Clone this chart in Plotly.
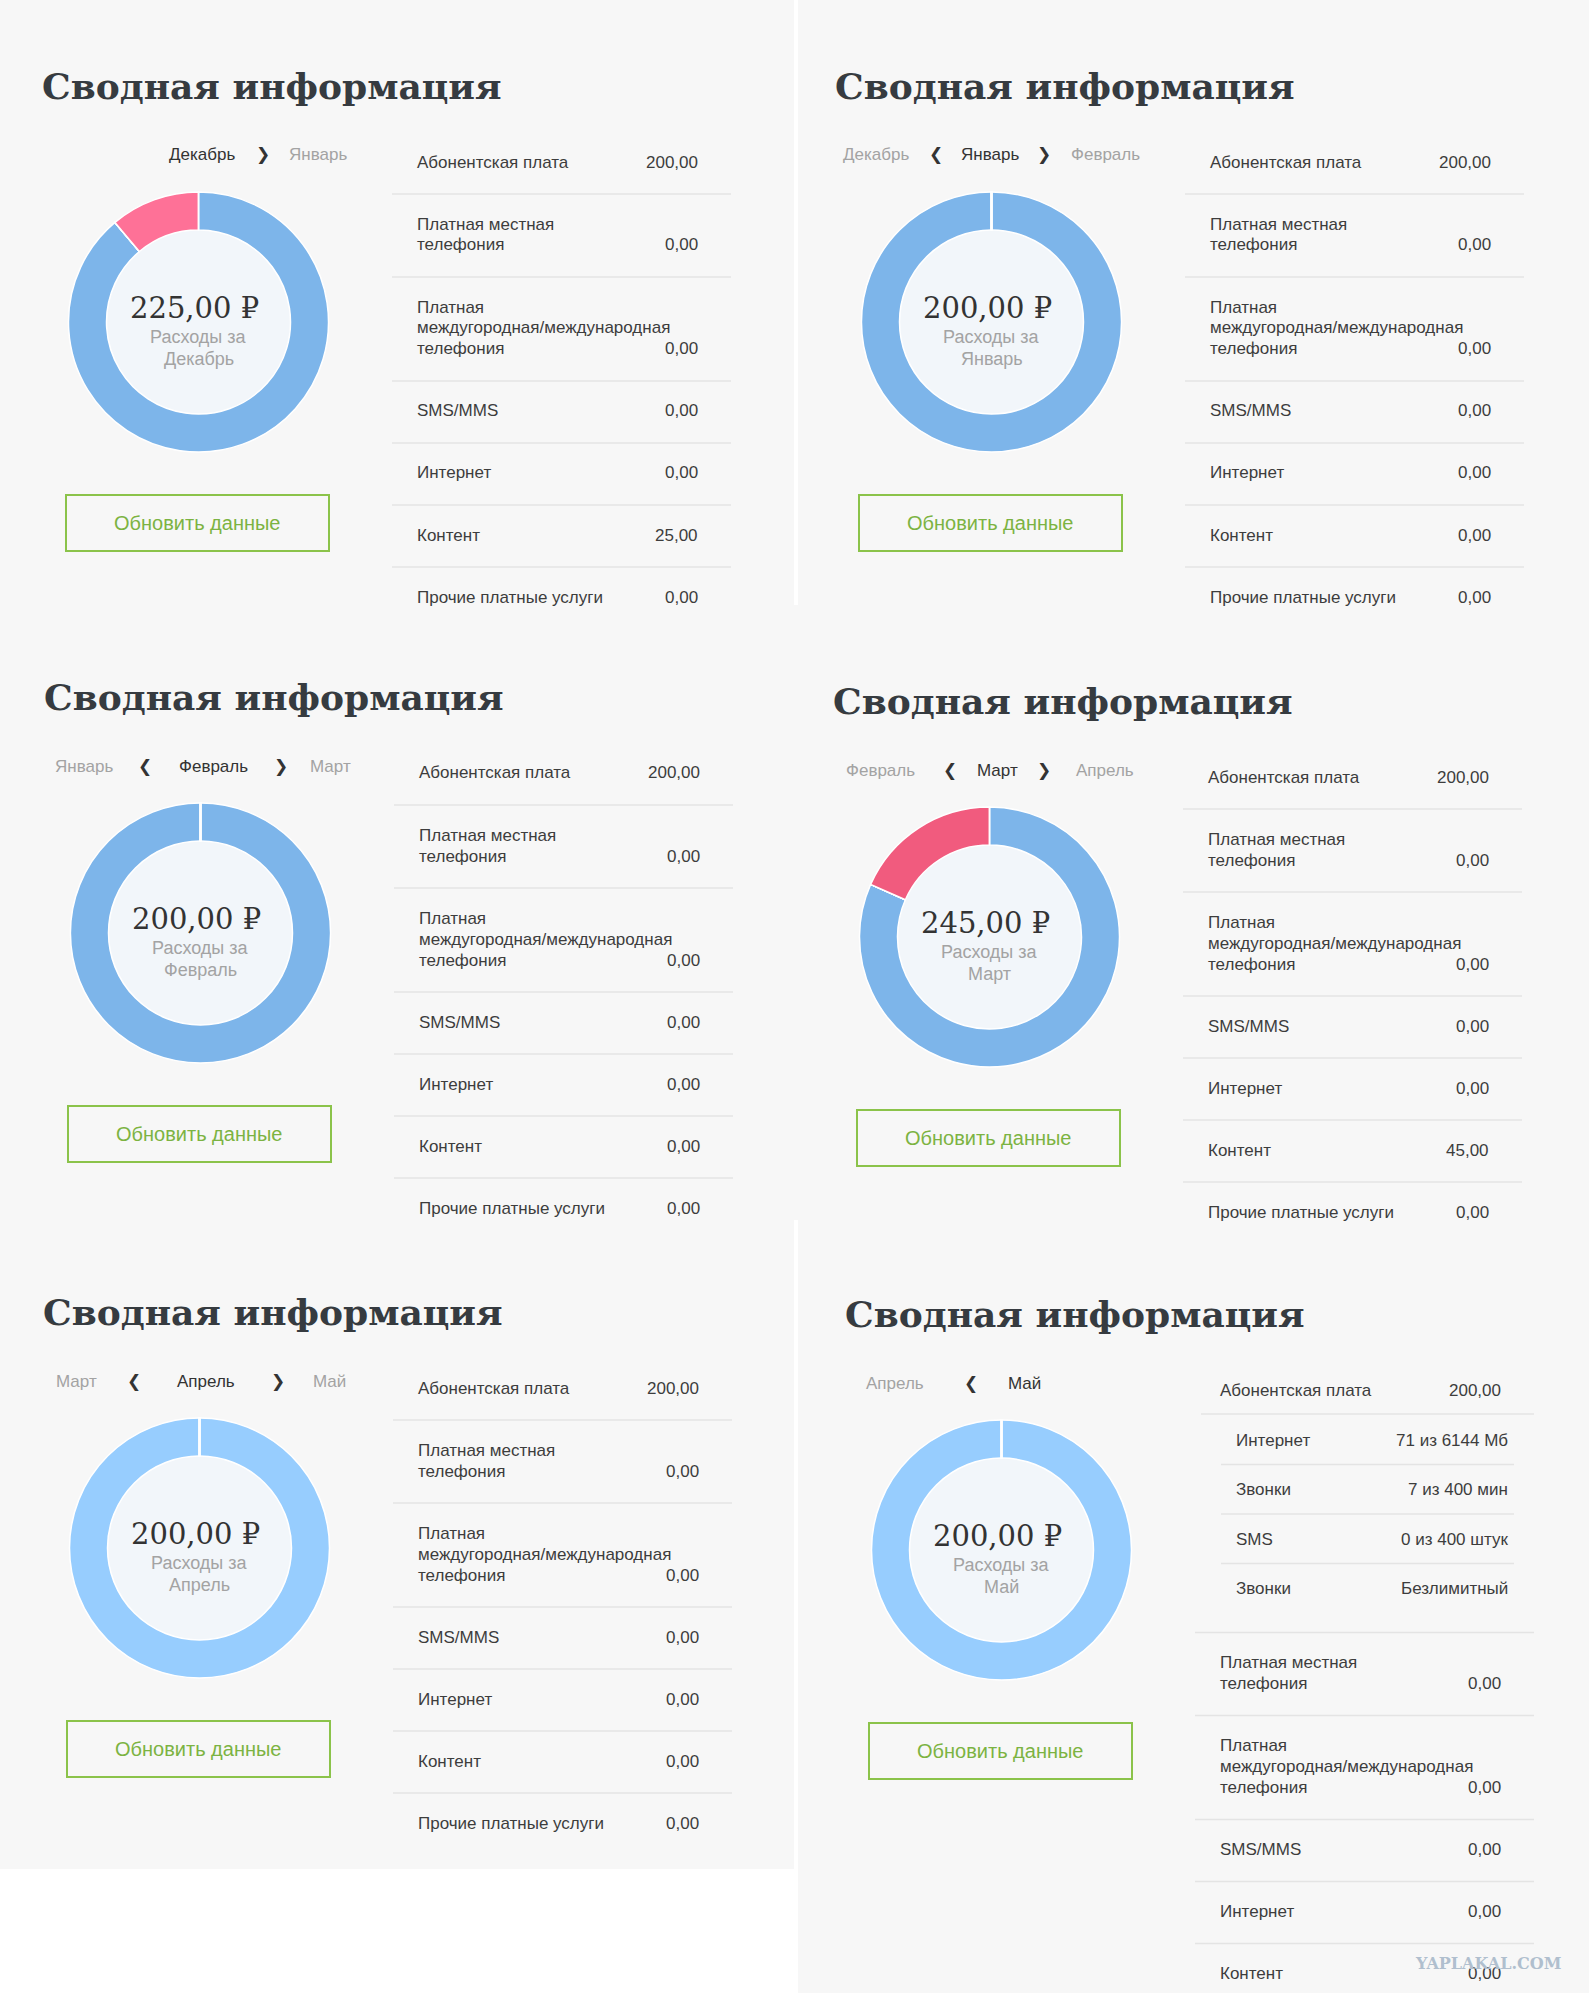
import plotly.graph_objects as go

W, H = 1589, 1993

title_text = "Сводная информация"
button_text = "Обновить данные"
spend_text = "Расходы за"
watermark = "YAPLAKAL.COM"

months = ["Декабрь", "Январь", "Февраль", "Март", "Апрель", "Май"]
prev_months = [None, "Декабрь", "Январь", "Февраль", "Март", "Апрель"]
next_months = ["Январь", "Февраль", "Март", "Апрель", "Май", None]

charge_labels = [
    ["Абонентская плата"],
    ["Платная местная", "телефония"],
    ["Платная", "междугородная/международная", "телефония"],
    ["SMS/MMS"],
    ["Интернет"],
    ["Контент"],
    ["Прочие платные услуги"],
]
charges_dec = [200, 0, 0, 0, 0, 25, 0]
charges_jan = [200, 0, 0, 0, 0, 0, 0]
charges_feb = [200, 0, 0, 0, 0, 0, 0]
charges_mar = [200, 0, 0, 0, 0, 45, 0]
charges_apr = [200, 0, 0, 0, 0, 0, 0]
charges_may = [200, 0, 0, 0, 0, 0]  # last row is below the picture

package_labels = ["Интернет", "Звонки", "SMS", "Звонки"]
package_values = ["71 из 6144 Мб", "7 из 400 мин", "0 из 400 штук", "Безлимитный"]

# look
BG = "#f7f7f7"
HOLE = "#f2f6fa"
SEP = "#e4e4e4"
DARK = "#3d3d3d"
GREY = "#a3a3a3"
GREEN = "#7cb342"
BODY = "Liberation Sans, Arial, sans-serif"
SLAB = "DejaVu Serif, serif"

# panel layout: origin in px, colours, nav x positions (prev, <, cur, >, next)
panels = [
    dict(o=(0, 0), vals=charges_dec, blue="#7db5ea", pink="#fe7197",
         nav=(None, None, 202, 263, 318)),
    dict(o=(793, 0), vals=charges_jan, blue="#7db5ea", pink="#fe7197",
         nav=(83, 143, 197, 251, 312)),
    dict(o=(2, 611), vals=charges_feb, blue="#7db5ea", pink="#fe7197",
         nav=(82, 143, 211, 279, 328)),
    dict(o=(791, 615), vals=charges_mar, blue="#7db5ea", pink="#f15b7e",
         nav=(89, 159, 206, 253, 314)),
    dict(o=(1, 1226), vals=charges_apr, blue="#97cdfe", pink="#fe7197",
         nav=(75, 133, 205, 277, 328)),
    dict(o=(803, 1228), vals=charges_may, blue="#97cdfe", pink="#fe7197",
         nav=(92, 168, 221, None, None), package=True),
]

R_OUT, R_IN = 130, 92
CX, CY = 198.5, 322


def X(x):
    return x / W


def Y(y):
    return 1 - y / H


def money(v):
    return f"{v:.2f}".replace(".", ",")


fig = go.Figure()
shapes = []
notes = []


def text(x, y, s, size=17, color=DARK, anchor="left", family=BODY):
    notes.append(dict(x=X(x), y=Y(y), xref="paper", yref="paper", text=s,
                      showarrow=False, xanchor=anchor, yanchor="middle",
                      font=dict(size=size, color=color, family=family)))


def hline(x0, x1, y, color=SEP, width=1.3):
    shapes.append(dict(type="line", xref="paper", yref="paper",
                       x0=X(x0), x1=X(x1), y0=Y(y), y1=Y(y),
                       line=dict(color=color, width=width), layer="below"))


def rect(x0, y0, x1, y1, fill, line=None):
    shapes.append(dict(type="rect", xref="paper", yref="paper",
                       x0=X(x0), x1=X(x1), y0=Y(y1), y1=Y(y0),
                       fillcolor=fill, line=line or dict(width=0), layer="below"))


# page background
rect(0, 0, W, H, BG)
rect(794, 0, 798, 605, "white")
rect(794, 1220, 798, H, "white")
rect(0, 1869, 797, H, "white")

for i, p in enumerate(panels):
    ox, oy = p["o"]
    vals = p["vals"]
    cx, cy = ox + CX, oy + CY

    text(ox + 40, oy + 86, "<b>" + title_text + "</b>", size=36,
         color="#363b40", family=SLAB)

    # month switcher
    nav = p["nav"]
    if prev_months[i]:
        text(ox + nav[0], oy + 155, prev_months[i], 17, GREY, "center")
        text(ox + nav[1], oy + 155, "<b>❮</b>", 17, "#333", "center", "DejaVu Sans")
    text(ox + nav[2], oy + 155, months[i], 17, "#333", "center")
    if next_months[i]:
        text(ox + nav[3], oy + 155, "<b>❯</b>", 17, "#333", "center", "DejaVu Sans")
        text(ox + nav[4], oy + 155, next_months[i], 17, GREY, "center")

    # donut
    colors = [p["blue"], "#cccccc", "#cccccc", "#cccccc", "#cccccc", p["pink"], "#cccccc"]
    shapes.append(dict(type="circle", xref="paper", yref="paper",
                       x0=X(cx - R_IN), x1=X(cx + R_IN), y0=Y(cy + R_IN), y1=Y(cy - R_IN),
                       fillcolor=HOLE, line=dict(width=0), layer="below"))
    fig.add_trace(go.Pie(
        values=vals, labels=[" ".join(l) for l in charge_labels[:len(vals)]],
        hole=R_IN / R_OUT, sort=False, direction="clockwise",
        marker=dict(colors=colors[:len(vals)], line=dict(color="white", width=1.5)),
        textinfo="none", hoverinfo="label+value",
        domain=dict(x=[X(cx - R_OUT), X(cx + R_OUT)], y=[Y(cy + R_OUT), Y(cy - R_OUT)]),
    ))
    if sum(1 for v in vals if v > 0) == 1:
        shapes.append(dict(type="line", xref="paper", yref="paper",
                           x0=X(cx), x1=X(cx), y0=Y(cy - R_OUT - 1), y1=Y(cy - R_IN + 1),
                           line=dict(color="white", width=2.5)))

    text(cx - 4, oy + 308, money(sum(vals)) + " ₽", 29, "#333", "center", SLAB)
    text(cx, oy + 337, spend_text, 18, GREY, "center")
    text(cx, oy + 359, months[i], 18, GREY, "center")

    # refresh button
    rect(ox + 66, oy + 495, ox + 329, oy + 551, "rgba(0,0,0,0)",
         dict(color="#8bc34a", width=2))
    text(ox + 197.5, oy + 523, button_text, 20, GREEN, "center")

    # charges table
    lx, vx = ox + 415, ox + 700
    text(lx, oy + 162, charge_labels[0][0], 17)
    text(vx, oy + 162, money(vals[0]), 17, anchor="right")
    if p.get("package"):
        hline(ox + 398, ox + 731, oy + 186)
        yy = oy + 212
        for k, (lab, val) in enumerate(zip(package_labels, package_values)):
            text(ox + 431, yy, lab, 17)
            text(ox + 707, yy, val, 17, anchor="right")
            if k < len(package_labels) - 1:
                hline(ox + 418, ox + 711, yy + 24.5)
                yy += 49.5
        sep = yy + 44
    else:
        sep = oy + 162 + 32
    hline(ox + 392, ox + 731, sep)
    cur = sep + 30
    rows = list(range(1, len(vals)))
    for r in rows:
        lines = charge_labels[r]
        for k, ln in enumerate(lines):
            text(lx, cur + 21 * k, ln, 17)
        last = cur + 21 * (len(lines) - 1)
        text(vx, last, money(vals[r]), 17, anchor="right")
        if r != rows[-1]:
            sep = last + 32
            hline(ox + 392, ox + 731, sep)
            cur = sep + 30

text(1563, 1963, "<b>" + watermark + "</b>", 16, "#b0bfce", "right", SLAB)

fig.update_layout(
    width=W, height=H, margin=dict(l=0, r=0, t=0, b=0),
    paper_bgcolor="white", plot_bgcolor="white",
    showlegend=False, shapes=shapes, annotations=notes,
)
fig.write_html("out.html", config={"displayModeBar": False},
               post_script="document.body.style.margin='0px';")
